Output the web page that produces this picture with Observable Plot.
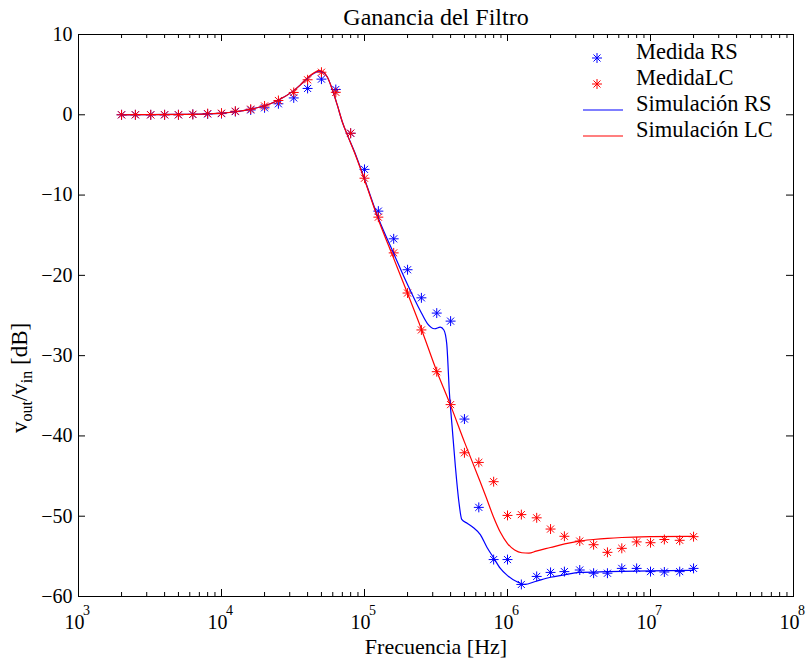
<!DOCTYPE html>
<html><head><meta charset="utf-8">
<script src="https://cdn.jsdelivr.net/npm/d3@7"></script>
<script src="https://cdn.jsdelivr.net/npm/@observablehq/plot@0.6"></script>
<style>
body{margin:0;background:#fff}
#chart svg{font-family:"Liberation Serif","Times New Roman",serif}
</style>
</head><body><div id="chart"></div>
<script>
// ---- Data ----
const freqMeas = [2000, 2500, 3200, 4000, 5000, 6300, 8000,
  10000, 12500, 16000, 20000, 25000, 32000, 40000, 50000, 63000, 80000,
  100000, 125000, 160000, 200000, 250000, 320000, 400000, 500000, 630000, 800000,
  1000000, 1250000, 1600000, 2000000, 2500000, 3200000, 4000000, 5000000, 6300000, 8000000,
  10000000, 12500000, 16000000, 20000000];
const measRS = [0, 0, 0, 0, 0, 0.05, 0.1,
  0.15, 0.4, 0.6, 0.87, 1.37, 2.1, 3.28, 4.44, 3.15, -2.3,
  -6.8, -12.0, -15.45, -19.3, -22.8, -24.7, -25.7, -37.9, -48.9, -55.4,
  -55.4, -58.5, -57.5, -57.0, -56.9, -56.7, -57.1, -57.1, -56.5, -56.5,
  -56.9, -56.95, -56.9, -56.5];
const measLC = [0, 0, 0, 0, 0, 0.05, 0.15,
  0.2, 0.45, 0.7, 1.1, 1.78, 2.78, 4.36, 5.3, 2.8, -2.3,
  -7.9, -12.75, -17.2, -22.2, -26.8, -32.0, -36.1, -42.1, -43.3, -45.7,
  -49.9, -49.8, -50.2, -51.6, -52.5, -53.1, -53.55, -54.5, -54.0, -53.2,
  -53.3, -52.9, -53.0, -52.55];

const simFreqRS = [2000, 3162, 5012, 7943, 10000, 12589, 15849, 19953, 25119, 31623,
  35481, 39811, 44668, 47863, 51286, 54954, 58884, 64565, 69984, 75858, 85114,
  100000, 125893, 158489, 199526, 245471, 275423, 309030, 338844, 358922, 375837,
  392645, 410204, 432514, 457088, 478630, 524807, 575440, 645654, 719449, 794328,
  891251, 1000000, 1174898, 1318257, 1584893, 1995262, 2511886, 3162278, 5011872,
  10000000, 19952623];
const simRS = [0, 0.02, 0.05, 0.12, 0.2, 0.38, 0.68, 1.12, 1.85, 2.95,
  3.7, 4.55, 5.2, 5.45, 5.3, 4.7, 3.4, 1.2, -0.9, -2.5, -4.6,
  -8.0, -13.0, -17.1, -21.1, -24.4, -26.0, -26.65, -26.45, -26.8, -28.5,
  -34.7, -38.9, -43.9, -48.2, -50.4, -50.9, -51.4, -52.3, -53.9, -55.1,
  -56.5, -57.4, -58.2, -58.5, -58.1, -57.6, -57.3, -57.0, -56.9,
  -56.8, -56.75];

const simFreqLC = [2000, 3162, 5012, 7943, 10000, 12589, 15849, 19953, 25119, 31623,
  35481, 39811, 44668, 47863, 51286, 54954, 58884, 64565, 69984, 75858, 85114,
  100000, 125893, 158489, 199526, 251189, 316228, 398107, 501187, 630957, 707946,
  794328, 891251, 1000000, 1122018, 1258925, 1412538, 1584893, 1995262, 2511886,
  3162278, 3981072, 5011872, 6309573, 10000000, 19952623];
const simLC = [0, 0.02, 0.05, 0.12, 0.2, 0.38, 0.68, 1.12, 1.85, 2.95,
  3.7, 4.6, 5.25, 5.5, 5.35, 4.7, 3.4, 1.2, -0.9, -2.5, -4.7,
  -8.1, -13.2, -17.7, -22.2, -26.8, -31.7, -36.1, -40.8, -45.3, -47.6,
  -50.0, -52.0, -53.4, -54.2, -54.55, -54.6, -54.35, -53.9, -53.45,
  -53.1, -52.9, -52.75, -52.65, -52.55, -52.5];

const yTicks = [-60, -50, -40, -30, -20, -10, 0, 10];
const yTickLabels = ["\u221260", "\u221250", "\u221240", "\u221230", "\u221220", "\u221210", "0", "10"];
const xDecades = [1e3, 1e4, 1e5, 1e6, 1e7, 1e8];
const xBase = ["10", "10", "10", "10", "10", "10"];
const xExp = ["3", "4", "5", "6", "7", "8"];
const xMinor = xDecades.slice(0, -1).flatMap(d => [2, 3, 4, 5, 6, 7, 8, 9].map(m => m * d));

const titleText = "Ganancia del Filtro";
const xLabel = "Frecuencia [Hz]";
const legendItems = ["Medida RS", "MedidaLC", "Simulación RS", "Simulación LC"];

// ---- Layout ----
const W = 807, H = 659, mL = 78, mR = 14, mT = 34, mB = 63;
const fw = W - mL - mR, fh = H - mT - mB;
const FONT = "'Liberation Serif','Times New Roman',serif";
const BLUE = "#0000ff", RED = "#ff0000";
const MR = 3.3;

const plot = Plot.plot({
  width: W, height: H,
  marginLeft: mL, marginRight: mR, marginTop: mT, marginBottom: mB,
  style: {fontFamily: FONT, fontSize: "20px", background: "white", overflow: "visible"},
  x: {type: "log", domain: [1e3, 1e8], axis: null},
  y: {domain: [-60, 10], axis: null},
  marks: [
    Plot.dot(measRS, {x: freqMeas, y: measRS, symbol: "plus", r: MR, stroke: BLUE, strokeWidth: 1}),
    Plot.dot(measRS, {x: freqMeas, y: measRS, symbol: "times", r: MR, stroke: BLUE, strokeWidth: 1}),
    Plot.dot(measLC, {x: freqMeas, y: measLC, symbol: "plus", r: MR, stroke: RED, strokeWidth: 1}),
    Plot.dot(measLC, {x: freqMeas, y: measLC, symbol: "times", r: MR, stroke: RED, strokeWidth: 1}),
    Plot.line(simRS, {x: simFreqRS, y: simRS, stroke: BLUE, strokeWidth: 1.2, curve: "monotone-x"}),
    Plot.line(simLC, {x: simFreqLC, y: simLC, stroke: RED, strokeWidth: 1.2, curve: "monotone-x"}),
    // inward ticks
    Plot.tickY(yTicks, {y: d => d, stroke: "black", insetRight: fw - 7}),
    Plot.tickY(yTicks, {y: d => d, stroke: "black", insetLeft: fw - 7}),
    Plot.tickX(xDecades, {x: d => d, stroke: "black", insetTop: fh - 7}),
    Plot.tickX(xDecades, {x: d => d, stroke: "black", insetBottom: fh - 7}),
    Plot.tickX(xMinor, {x: d => d, stroke: "black", insetTop: fh - 4}),
    Plot.tickX(xMinor, {x: d => d, stroke: "black", insetBottom: fh - 4}),
    Plot.frame({stroke: "black", strokeWidth: 1}),
    // tick labels
    Plot.text(yTicks, {y: d => d, text: yTickLabels, frameAnchor: "left", textAnchor: "end", lineAnchor: "middle", dx: -6, fontSize: 20, fill: "black"}),
    Plot.text(xDecades, {x: d => d, text: xBase, frameAnchor: "bottom", lineAnchor: "middle", dx: -4, dy: 26, fontSize: 20, fill: "black"}),
    Plot.text(xDecades, {x: d => d, text: xExp, frameAnchor: "bottom", lineAnchor: "middle", dx: 8, dy: 14, fontSize: 14, fill: "black"}),
    // titles
    Plot.text([titleText], {text: d => d, frameAnchor: "top", lineAnchor: "middle", dy: -17, fontSize: 24, fill: "black"}),
    Plot.text([xLabel], {text: d => d, frameAnchor: "bottom", lineAnchor: "middle", dy: 50, fontSize: 22, fill: "black"})
  ]
});
document.getElementById("chart").appendChild(plot);

const svg = d3.select(plot);
// y label with subscripts
const yl = svg.append("text")
  .attr("transform", "translate(27,433) rotate(-90)")
  .attr("text-anchor", "start")
  .attr("font-family", FONT).attr("font-size", 23).attr("fill", "black");
yl.append("tspan").text("v");
yl.append("tspan").attr("font-size", 16).attr("dy", 5).text("out");
yl.append("tspan").attr("dy", -5).text("/v");
yl.append("tspan").attr("font-size", 16).attr("dy", 5).text("in");
yl.append("tspan").attr("dy", -5).text(" [dB]");

// legend
const lg = svg.append("g").attr("font-family", FONT).attr("font-size", 22.5).attr("text-anchor", "start");
const rows = [58, 84, 110, 136];
const symPlus = d3.symbol(d3.symbolPlus, Math.PI * MR * MR)();
const symTimes = d3.symbol(d3.symbolTimes, Math.PI * MR * MR)();
[[BLUE, 0], [RED, 1]].forEach(([c, i]) => {
  lg.append("path").attr("d", symPlus).attr("transform", `translate(597,${rows[i]})`).attr("stroke", c).attr("fill", "none");
  lg.append("path").attr("d", symTimes).attr("transform", `translate(597,${rows[i]})`).attr("stroke", c).attr("fill", "none");
});
[[BLUE, 2], [RED, 3]].forEach(([c, i]) => {
  lg.append("line").attr("x1", 583).attr("x2", 623).attr("y1", rows[i]).attr("y2", rows[i]).attr("stroke", c).attr("stroke-width", 1.2);
});
legendItems.forEach((t, i) => {
  lg.append("text").attr("x", 636).attr("y", rows[i] + 1).attr("fill", "black").text(t);
});
</script>
</body></html>
